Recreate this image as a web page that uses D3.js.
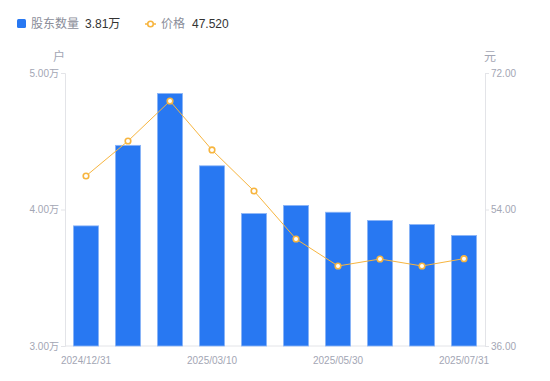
<!DOCTYPE html>
<html><head><meta charset="utf-8">
<script src="https://cdn.jsdelivr.net/npm/d3@7"></script>
<style>body{margin:0;background:#fff;font-family:"Liberation Sans","Noto Sans CJK SC",sans-serif;}</style>
</head><body><svg id="c" width="550" height="381"></svg>
<script>
const dates = ["2024/12/31","2025/01/20","2025/02/20","2025/03/10","2025/03/31","2025/04/30","2025/05/30","2025/06/20","2025/06/30","2025/07/31"];
const holders = [3.88,4.47,4.85,4.32,3.97,4.03,3.98,3.92,3.89,3.81];
const prices = [58.42,63.03,68.31,61.85,56.44,50.11,46.55,47.47,46.55,47.52];
const leftTicks = [3,4,5];
const rightTicks = [36,54,72];
const shownLabels = ["2024/12/31","2025/03/10","2025/05/30","2025/07/31"];

const svg = d3.select("#c");
const L=65,R=485,T=73,B=346;
const x = d3.scaleBand().domain(dates).range([L,R]).paddingInner(0.4).paddingOuter(0.2);
const yL = d3.scaleLinear().domain([3,5]).range([B,T]);
const yR = d3.scaleLinear().domain([36,72]).range([B,T]);
const gray="#a3a6b4", axisC="#e3e4e8", font='"Liberation Sans","Noto Sans CJK SC",sans-serif';

const ga = svg.append("g").attr("transform",`translate(${L},0)`)
 .call(d3.axisLeft(yL).tickValues(leftTicks).tickSize(4).tickFormat(d=>d.toFixed(2)+"万"));
const gb = svg.append("g").attr("transform",`translate(${R},0)`)
 .call(d3.axisRight(yR).tickValues(rightTicks).tickSize(4).tickFormat(d=>d.toFixed(2)));
const gx = svg.append("g").attr("transform",`translate(0,${B})`)
 .call(d3.axisBottom(x).tickSize(0).tickFormat(d=>shownLabels.includes(d)?d:""));
[ga,gb,gx].forEach(g=>{
  g.selectAll("path,line").attr("stroke",axisC);
  g.selectAll("text").attr("fill",gray).style("font-size","10px").style("font-family",font);
});
ga.selectAll("text").attr("x",-6);
gb.selectAll("text").attr("x",6);
gx.selectAll("text").attr("dy","1.45em");
gx.select("path").attr("d",`M${L},0H${R}`);

svg.append("text").attr("x",59).attr("y",61).attr("text-anchor","middle").attr("fill",gray).style("font-size","12px").style("font-family",font).text("户");
svg.append("text").attr("x",490).attr("y",61).attr("text-anchor","middle").attr("fill",gray).style("font-size","12px").style("font-family",font).text("元");

svg.append("g").selectAll("rect").data(holders).join("rect")
 .attr("x",(d,i)=>x(dates[i])).attr("width",x.bandwidth())
 .attr("y",d=>yL(d)).attr("height",d=>B-yL(d))
 .attr("fill","#2878f2").attr("stroke","#8db6f7").attr("stroke-width",0.8);

const line = d3.line().x((d,i)=>x(dates[i])+x.bandwidth()/2).y(d=>yR(d));
svg.append("path").datum(prices).attr("d",line).attr("fill","none").attr("stroke","#f7b53f").attr("stroke-width",1);
svg.append("g").selectAll("circle").data(prices).join("circle")
 .attr("cx",(d,i)=>x(dates[i])+x.bandwidth()/2).attr("cy",d=>yR(d)).attr("r",2.8)
 .attr("fill","#fff").attr("stroke","#f7b53f").attr("stroke-width",1.6);

svg.append("rect").attr("x",17).attr("y",19).attr("width",9).attr("height",9).attr("rx",1.5).attr("fill","#2878f2");
svg.append("text").attr("x",31).attr("y",28).attr("fill","#8a8d99").style("font-size","12px").style("font-family",font).text("股东数量");
svg.append("text").attr("x",85).attr("y",28).attr("fill","#333").style("font-size","12px").style("font-family",font).text(holders[holders.length-1].toFixed(2)+"万");
svg.append("line").attr("x1",145).attr("x2",156).attr("y1",24).attr("y2",24).attr("stroke","#f7b53f").attr("stroke-width",1.5);
svg.append("circle").attr("cx",150.5).attr("cy",24).attr("r",2.8).attr("fill","#fff").attr("stroke","#f7b53f").attr("stroke-width",1.6);
svg.append("text").attr("x",161).attr("y",28).attr("fill","#8a8d99").style("font-size","12px").style("font-family",font).text("价格");
svg.append("text").attr("x",192).attr("y",28).attr("fill","#333").style("font-size","12px").style("font-family",font).text(prices[prices.length-1].toFixed(3));
</script></body></html>
